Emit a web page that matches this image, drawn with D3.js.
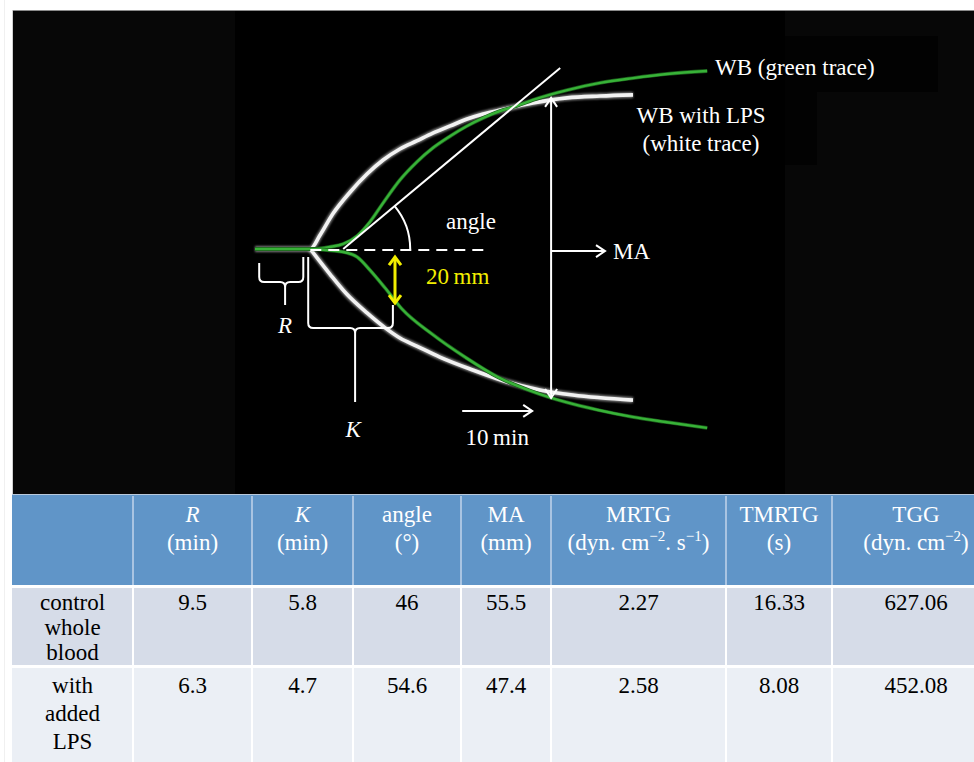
<!DOCTYPE html>
<html>
<head>
<meta charset="utf-8">
<script src="https://cdn.jsdelivr.net/npm/d3@7"></script>
<style>
  body { margin: 0; background: #fff; }
  svg { display: block; }
  svg text, svg tspan { font-family: "Liberation Serif", "Times New Roman", Times, serif; }
</style>
</head>
<body>
<svg id="fig" width="974" height="762"></svg>
<script>
// ---- TEG traces: [time (min), half-amplitude (mm)] ----
const wbUpper = [[0,0],[7.9,0],[10.7,0.9],[12.6,2.2],[14.6,5.7],[16.4,11.7],[18.3,20.0],[20.7,30.0],[23.1,37.8],[25.4,43.9],[27.9,49.1],[30.3,53.5],[32.6,57.0],[35.0,60.0],[37.4,62.2],[39.7,64.8],[44.6,69.1],[49.3,72.2],[54.0,74.3],[58.9,76.1],[64.6,77.4]];
const wbLower = [[7.9,0],[12.6,1.3],[14.6,3.5],[16.4,9.1],[18.6,17.0],[21.0,26.1],[25.3,37.0],[30.0,47.0],[34.7,55.7],[39.4,61.7],[44.3,66.5],[49.0,70.0],[53.9,73.0],[58.6,75.2],[64.6,77.8]];
const lpsUpper = [[0,0],[7.9,0],[9.3,6.1],[11.1,15.2],[13.6,24.8],[16.0,32.6],[18.3,38.7],[20.7,43.5],[23.1,47.0],[25.4,50.4],[27.9,53.5],[30.3,56.5],[32.6,58.7],[35.0,60.4],[39.7,63.5],[44.6,65.7],[49.3,66.5],[54.0,67.0]];
const lpsLower = [[7.9,0],[10.7,10.9],[13.1,19.6],[16.0,27.8],[18.6,34.3],[20.7,38.7],[23.1,42.2],[26.4,47.0],[31.1,52.6],[36.0,57.8],[40.7,61.3],[45.4,63.5],[54.0,65.7]];

// ---- annotation geometry in the same units ----
const tangentLine = [[12.6,0],[43.6,78.7]];
const baselineDash = [7.9, 33.6];
const maArrow = {t: 42.3, top: 65.7, bottom: -64.8, tipT: 50.0};
const scaleAmp = {t: 20.0, from: -3.5, to: -23.5};   // 20 mm
const scaleTime = {a: -70.4, from: 29.6, to: 39.6};  // 10 min
const braces = [
  {name: "R", left: 0.6, right: 6.9, leftTop: -6.1, rightTop: -3.5, bottom: -14.3, stem: 4.3, tip: -24.3},
  {name: "K", left: 7.6, right: 19.7, leftTop: -3.5, rightTop: -24.3, bottom: -34.3, stem: 14.3, tip: -66.5}
];

// ---- table ----
const headers = ["", "R", "K", "angle", "MA", "MRTG", "TMRTG", "TGG"];
const headerItalic = [false, true, true, false, false, false, false, false];
const units = [
  [],
  [{t: "(min)"}],
  [{t: "(min)"}],
  [{t: "(°)"}],
  [{t: "(mm)"}],
  [{t: "(dyn. cm"}, {t: "−2", sup: true}, {t: ". s"}, {t: "−1", sup: true}, {t: ")"}],
  [{t: "(s)"}],
  [{t: "(dyn. cm"}, {t: "−2", sup: true}, {t: ")"}]
];
const rowLabels = [["control", "whole", "blood"], ["with", "added", "LPS"]];
const controlValues = ["9.5", "5.8", "46", "55.5", "2.27", "16.33", "627.06"];
const lpsValues = ["6.3", "4.7", "54.6", "47.4", "2.58", "8.08", "452.08"];

const SERIF = "Liberation Serif, Times New Roman, Times, serif";
const svg = d3.select("#fig").attr("font-family", SERIF);
const FS = 23;

// ---------------- trace panel ----------------
svg.append("rect").attr("x", 12).attr("y", 10).attr("width", 962).attr("height", 484).attr("fill", "#070707");
svg.append("line").attr("x1", 12).attr("x2", 974).attr("y1", 10.5).attr("y2", 10.5).attr("stroke", "#8a8a8a");
svg.append("line").attr("x1", 12.5).attr("x2", 12.5).attr("y1", 10).attr("y2", 762).attr("stroke", "#cfcfcf");
svg.append("line").attr("x1", 4.5).attr("x2", 4.5).attr("y1", 0).attr("y2", 762).attr("stroke", "#f0f0f0");
svg.append("rect").attr("x", 235).attr("y", 11).attr("width", 550).attr("height", 483).attr("fill", "#000");
svg.append("rect").attr("x", 785).attr("y", 36).attr("width", 153).attr("height", 56).attr("fill", "#020202");
svg.append("rect").attr("x", 785).attr("y", 92).attr("width", 32).attr("height", 73).attr("fill", "#020202");

const x = d3.scaleLinear().domain([0, 10]).range([255, 325]);   // 7 px per minute
const y = d3.scaleLinear().domain([0, 20]).range([249, 203]);   // 2.3 px per mm

const defs = svg.append("defs");
defs.append("filter").attr("id", "glow").attr("x", "-5%").attr("y", "-5%").attr("width", "110%").attr("height", "110%")
  .append("feGaussianBlur").attr("stdDeviation", 1.3);

const up = d3.line().x(d => x(d[0])).y(d => y(d[1])).curve(d3.curveMonotoneX);
const down = d3.line().x(d => x(d[0])).y(d => y(-d[1])).curve(d3.curveMonotoneX);

const traces = svg.append("g");
// white trace (WB with LPS)
[[lpsUpper, up], [lpsLower, down]].forEach(([data, gen]) => {
  traces.append("path").attr("d", gen(data)).attr("fill", "none").attr("stroke", "#fff")
    .attr("stroke-width", 6).attr("opacity", 0.5).attr("filter", "url(#glow)");
  traces.append("path").attr("d", gen(data)).attr("fill", "none").attr("stroke", "#f2f2f2")
    .attr("stroke-width", 3.6).attr("stroke-linejoin", "round");
});
// green trace (WB)
[[wbUpper, up], [wbLower, down]].forEach(([data, gen]) => {
  traces.append("path").attr("d", gen(data)).attr("fill", "none").attr("stroke", "#1a5a1a")
    .attr("stroke-width", 3.8);
  traces.append("path").attr("d", gen(data)).attr("fill", "none").attr("stroke", "#38b238")
    .attr("stroke-width", 2.4);
});

const ann = svg.append("g").attr("fill", "none").attr("stroke", "#fff").attr("stroke-width", 2);

// tangent line and the angle it makes with the baseline
const p0 = [x(tangentLine[0][0]), y(tangentLine[0][1])];
const p1 = [x(tangentLine[1][0]), y(tangentLine[1][1])];
ann.append("line").attr("x1", p0[0]).attr("y1", p0[1]).attr("x2", p1[0]).attr("y2", p1[1]);
const theta = Math.atan2(p0[1] - p1[1], p1[0] - p0[0]);
const rArc = 67;
ann.append("path").attr("d", `M${p0[0] + rArc},${p0[1]} A${rArc},${rArc} 0 0 0 ${p0[0] + rArc * Math.cos(theta)},${p0[1] - rArc * Math.sin(theta)}`);

// dashed baseline
ann.append("line").attr("x1", x(baselineDash[0])).attr("x2", x(baselineDash[1]))
  .attr("y1", y(-0.4)).attr("y2", y(-0.4)).attr("stroke-dasharray", "11,7");

// arrow helper: open V head at (hx,hy) pointing along angle ang
function head(g, hx, hy, ang, len, half, color) {
  const bx = hx - len * Math.cos(ang), by = hy - len * Math.sin(ang);
  const nx = -Math.sin(ang) * half, ny = Math.cos(ang) * half;
  g.append("path").attr("d", `M${bx + nx},${by + ny} L${hx},${hy} L${bx - nx},${by - ny}`)
    .attr("stroke", color).attr("fill", "none").attr("stroke-linejoin", "miter");
}

// MA double arrow and pointer
const maX = x(maArrow.t);
ann.append("line").attr("x1", maX).attr("x2", maX).attr("y1", y(maArrow.top)).attr("y2", y(maArrow.bottom));
head(ann, maX, y(maArrow.top), -Math.PI / 2, 9, 6, "#fff");
head(ann, maX, y(maArrow.bottom), Math.PI / 2, 9, 6, "#fff");
const maY = y(-0.9);
ann.append("line").attr("x1", maX).attr("x2", x(maArrow.tipT)).attr("y1", maY).attr("y2", maY);
head(ann, x(maArrow.tipT), maY, 0, 9, 6, "#fff");

// 10 min scale arrow
const tY = y(scaleTime.a);
ann.append("line").attr("x1", x(scaleTime.from)).attr("x2", x(scaleTime.to)).attr("y1", tY).attr("y2", tY);
head(ann, x(scaleTime.to), tY, 0, 9, 6, "#fff");

// 20 mm scale arrow (yellow)
const yel = svg.append("g").attr("stroke", "#f2ee00").attr("stroke-width", 3).attr("fill", "none");
const aX = x(scaleAmp.t);
yel.append("line").attr("x1", aX).attr("x2", aX).attr("y1", y(scaleAmp.from) + 1).attr("y2", y(scaleAmp.to) - 1);
head(yel, aX, y(scaleAmp.from), -Math.PI / 2, 8, 6, "#f2ee00");
head(yel, aX, y(scaleAmp.to), Math.PI / 2, 8, 6, "#f2ee00");

// R and K braces
braces.forEach(b => {
  const L = x(b.left), Rr = x(b.right), S = x(b.stem), B = y(b.bottom), r = 5;
  ann.append("path").attr("d",
    `M${L},${y(b.leftTop)} V${B - r} Q${L},${B} ${L + r},${B} H${S - r} Q${S},${B} ${S},${B + r} V${y(b.tip)}` +
    ` M${Rr},${y(b.rightTop)} V${B - r} Q${Rr},${B} ${Rr - r},${B} H${S + r} Q${S},${B} ${S},${B + r}`);
});

// text annotations
const lab = svg.append("g").attr("font-size", FS).attr("fill", "#fff").attr("font-family", SERIF);
lab.append("text").attr("x", 471).attr("y", 229).attr("text-anchor", "middle").text("angle");
lab.append("text").attr("x", x(maArrow.tipT) + 8).attr("y", 259).text("MA");
lab.append("text").attr("x", 426).attr("y", 284).attr("fill", "#f2ee00").text("20\u2009mm");
lab.append("text").attr("x", x(braces[0].stem)).attr("y", 333).attr("text-anchor", "middle").attr("font-style", "italic").text("R");
lab.append("text").attr("x", x(braces[1].stem) - 2).attr("y", 437).attr("text-anchor", "middle").attr("font-style", "italic").text("K");
lab.append("text").attr("x", (x(scaleTime.from) + x(scaleTime.to)) / 2).attr("y", 445).attr("text-anchor", "middle").text("10\u2009min");
lab.append("text").attr("x", 715).attr("y", 75).text("WB (green trace)");
lab.append("text").attr("x", 701).attr("y", 123).attr("text-anchor", "middle").text("WB with LPS");
lab.append("text").attr("x", 701).attr("y", 151).attr("text-anchor", "middle").text("(white trace)");

// ---------------- results table ----------------
const colEdges = [12, 133, 252, 353, 461, 551, 726, 832, 1000];
const colCenter = i => (colEdges[i] + colEdges[i + 1]) / 2;
const headTop = 494, headBot = 585, row1Top = 588, row1Bot = 665, row2Top = 668, tableBot = 762;

const tbl = svg.append("g");
tbl.append("rect").attr("x", 12).attr("y", headTop).attr("width", 962).attr("height", tableBot - headTop).attr("fill", "#fff");
tbl.append("rect").attr("x", 12).attr("y", headTop).attr("width", 962).attr("height", headBot - headTop).attr("fill", "#6095c8");
tbl.append("line").attr("x1", 12).attr("x2", 974).attr("y1", headTop + 0.5).attr("y2", headTop + 0.5).attr("stroke", "#b9c9dc");
tbl.append("rect").attr("x", 12).attr("y", row1Top).attr("width", 962).attr("height", row1Bot - row1Top).attr("fill", "#d6dce8");
tbl.append("rect").attr("x", 12).attr("y", row2Top).attr("width", 962).attr("height", tableBot - row2Top).attr("fill", "#ebeff5");

colEdges.slice(1, -1).forEach(cx => {
  tbl.append("line").attr("x1", cx).attr("x2", cx).attr("y1", headTop + 2).attr("y2", headBot)
    .attr("stroke", "#a9c4e2").attr("stroke-width", 2);
  tbl.append("line").attr("x1", cx).attr("x2", cx).attr("y1", row1Top).attr("y2", tableBot)
    .attr("stroke", "#fff").attr("stroke-width", 2);
});

const ht = tbl.append("g").attr("font-size", FS).attr("fill", "#fff").attr("text-anchor", "middle").attr("font-family", SERIF);
headers.forEach((h, i) => {
  if (!h) return;
  ht.append("text").attr("x", colCenter(i)).attr("y", 522)
    .attr("font-style", headerItalic[i] ? "italic" : "normal").text(h);
  const t = ht.append("text").attr("x", colCenter(i)).attr("y", 550);
  units[i].forEach(seg => {
    t.append("tspan").attr("font-size", seg.sup ? 15 : FS).attr("baseline-shift", seg.sup ? "9" : null).text(seg.t);
  });
});

const bt = tbl.append("g").attr("font-size", FS).attr("fill", "#000").attr("text-anchor", "middle").attr("font-family", SERIF);
const rowBase = [610, 693];
const rowStep = [25, 28];
[controlValues, lpsValues].forEach((vals, r) => {
  rowLabels[r].forEach((w, k) => {
    bt.append("text").attr("x", colCenter(0)).attr("y", rowBase[r] + k * rowStep[r]).text(w);
  });
  vals.forEach((v, i) => {
    bt.append("text").attr("x", colCenter(i + 1)).attr("y", rowBase[r]).text(v);
  });
});
</script>
</body>
</html>
